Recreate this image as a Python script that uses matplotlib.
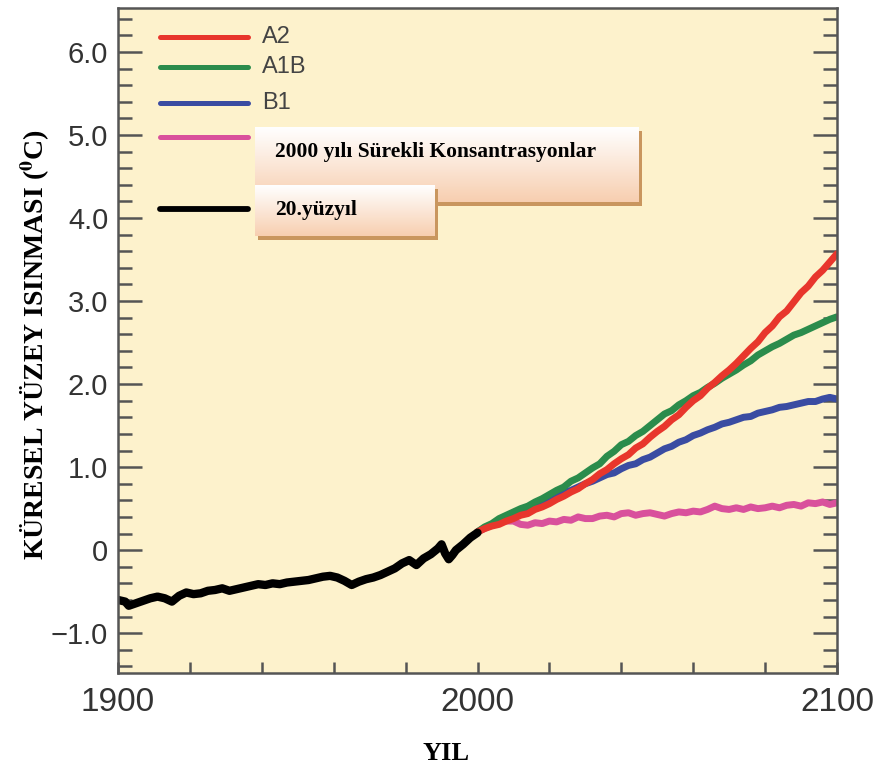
import matplotlib
matplotlib.use('Agg')
import matplotlib.pyplot as plt
from matplotlib.ticker import MultipleLocator, FixedLocator, FixedFormatter
import numpy as np

# 20th century observed
years_hist = [1900, 1902, 1903, 1905, 1907, 1909, 1911, 1913, 1915, 1917, 1919,
              1921, 1923, 1925, 1927, 1929, 1931, 1933, 1935, 1937, 1939, 1941,
              1943, 1945, 1947, 1949, 1951, 1953, 1955, 1957, 1959, 1961, 1963,
              1965, 1967, 1969, 1971, 1973, 1975, 1977, 1979, 1981, 1983, 1985,
              1987, 1989, 1990, 1991, 1992, 1993, 1994, 1996, 1998, 2000]
temp_hist = [-0.60, -0.62, -0.67, -0.64, -0.61, -0.58, -0.56, -0.58, -0.62, -0.55, -0.51,
             -0.53, -0.52, -0.49, -0.48, -0.46, -0.49, -0.47, -0.45, -0.43, -0.41, -0.42,
             -0.40, -0.41, -0.39, -0.38, -0.37, -0.36, -0.34, -0.32, -0.31, -0.33, -0.37,
             -0.42, -0.38, -0.35, -0.33, -0.30, -0.26, -0.22, -0.16, -0.12, -0.18, -0.10,
             -0.05, 0.02, 0.07, -0.04, -0.11, -0.06, 0.00, 0.07, 0.15, 0.21]

years_proj = list(range(2000, 2101, 2))
a2 = [0.22, 0.26, 0.29, 0.31, 0.35, 0.38, 0.42, 0.44, 0.49, 0.52,
      0.56, 0.61, 0.65, 0.70, 0.74, 0.80, 0.85, 0.92, 0.97, 1.04,
      1.10, 1.15, 1.23, 1.28, 1.36, 1.43, 1.49, 1.57, 1.63, 1.72,
      1.80, 1.86, 1.95, 2.02, 2.10, 2.17, 2.25, 2.34, 2.43, 2.51,
      2.62, 2.70, 2.81, 2.88, 2.99, 3.10, 3.18, 3.29, 3.37, 3.47, 3.57]
a1b = [0.22, 0.28, 0.32, 0.38, 0.42, 0.46, 0.50, 0.53, 0.58, 0.62,
       0.67, 0.72, 0.76, 0.83, 0.87, 0.93, 0.99, 1.04, 1.13, 1.19,
       1.27, 1.31, 1.38, 1.43, 1.50, 1.57, 1.64, 1.68, 1.75, 1.80,
       1.86, 1.90, 1.96, 2.01, 2.07, 2.12, 2.17, 2.23, 2.28, 2.35,
       2.40, 2.45, 2.49, 2.54, 2.59, 2.62, 2.66, 2.70, 2.74, 2.78, 2.81]
b1 = [0.22, 0.27, 0.31, 0.36, 0.41, 0.44, 0.48, 0.52, 0.55, 0.59,
      0.62, 0.66, 0.69, 0.72, 0.76, 0.80, 0.83, 0.87, 0.91, 0.93,
      0.98, 1.02, 1.04, 1.09, 1.12, 1.17, 1.22, 1.25, 1.30, 1.33,
      1.38, 1.41, 1.45, 1.48, 1.52, 1.54, 1.57, 1.60, 1.61, 1.65,
      1.67, 1.69, 1.72, 1.73, 1.75, 1.77, 1.79, 1.79, 1.82, 1.84, 1.82]
const2000 = [0.22, 0.26, 0.30, 0.33, 0.35, 0.35, 0.31, 0.30, 0.33, 0.32,
             0.35, 0.34, 0.37, 0.36, 0.40, 0.38, 0.38, 0.41, 0.42, 0.40,
             0.44, 0.45, 0.42, 0.44, 0.45, 0.43, 0.41, 0.44, 0.46, 0.45,
             0.47, 0.46, 0.49, 0.53, 0.50, 0.49, 0.51, 0.49, 0.52, 0.50,
             0.51, 0.53, 0.51, 0.54, 0.55, 0.53, 0.57, 0.56, 0.58, 0.55, 0.57]

colors = {'A2': '#e8362c', 'A1B': '#2b8c4c', 'B1': '#3a4ca2',
          'const': '#d9519c', 'hist': '#000000'}

ytick_vals = [-1.0, 0, 1.0, 2.0, 3.0, 4.0, 5.0, 6.0]
ytick_labels = ['\u22121.0', '0', '1.0', '2.0', '3.0', '4.0', '5.0', '6.0']
xtick_vals = [1900, 2000, 2100]
xtick_labels = ['1900', '2000', '2100']

plt.rcParams['mathtext.fontset'] = 'stix'

W, H = 885, 767
fig = plt.figure(figsize=(W / 100, H / 100), dpi=100)
ax = fig.add_axes([118 / W, 1 - 673 / H, (837 - 118) / W, (673 - 8) / H])
ax.set_facecolor('#fdf2cc')

lw_proj = 5.0
ax.plot(years_proj, const2000, color=colors['const'], lw=lw_proj, solid_capstyle='round')
ax.plot(years_proj, b1, color=colors['B1'], lw=lw_proj, solid_capstyle='round')
ax.plot(years_proj, a1b, color=colors['A1B'], lw=lw_proj, solid_capstyle='round')
ax.plot(years_proj, a2, color=colors['A2'], lw=lw_proj, solid_capstyle='round')
ax.plot(years_hist, temp_hist, color=colors['hist'], lw=6.0, solid_capstyle='round')

ax.set_xlim(1900, 2100)
ax.set_ylim(-1.48, 6.53)

frame_col = '#555555'
for s in ax.spines.values():
    s.set_color(frame_col)
    s.set_linewidth(1.8)

ax.yaxis.set_major_locator(FixedLocator(ytick_vals))
ax.yaxis.set_major_formatter(FixedFormatter(ytick_labels))
ax.yaxis.set_minor_locator(MultipleLocator(0.2))
ax.xaxis.set_major_locator(FixedLocator(xtick_vals))
ax.xaxis.set_major_formatter(FixedFormatter(xtick_labels))
ax.xaxis.set_minor_locator(MultipleLocator(20))

ax.tick_params(axis='y', which='both', direction='in', left=True, right=True,
               colors=frame_col, labelcolor='#333333', width=1.8)
ax.tick_params(axis='y', which='major', length=17, labelsize=21, pad=7)
ax.tick_params(axis='y', which='minor', length=10)
ax.tick_params(axis='x', which='both', direction='in', bottom=True, top=False,
               colors=frame_col, labelcolor='#333333', width=1.8, length=8)
ax.tick_params(axis='x', which='major', labelsize=24, pad=10)
for lab in ax.get_xticklabels() + ax.get_yticklabels():
    lab.set_family('Liberation Sans')

# legend, drawn by hand
leg_x0, leg_x1, leg_tx = 0.058, 0.181, 0.200
leg_rows = [('A2', colors['A2'], 0.956), ('A1B', colors['A1B'], 0.911),
            ('B1', colors['B1'], 0.857), ('', colors['const'], 0.806),
            ('', colors['hist'], 0.698)]
for name, c, yy in leg_rows:
    ax.plot([leg_x0, leg_x1], [yy, yy], color=c, lw=4.2 if c == '#000000' else 3.6,
            transform=ax.transAxes, solid_capstyle='round')
    if name:
        ax.text(leg_tx, yy, name, transform=ax.transAxes, va='center', ha='left',
                fontsize=17, color='#444444', family='Liberation Sans')

# overlay for the boxed labels
ov = fig.add_axes([0, 0, 1, 1])
ov.axis('off')
ov.patch.set_alpha(0)
grad = np.linspace(0, 1, 100)[:, None]
top_c = np.array([1.0, 1.0, 1.0])
bot_c = np.array([0.97, 0.81, 0.69])
img = top_c[None, None, :] * (1 - grad[:, :, None]) + bot_c[None, None, :] * grad[:, :, None]
shadow = '#c9965e'


def box(x0, y0, x1, y1, text, z):
    ov.add_patch(plt.Rectangle((x0 + 3, y0 + 4), x1 - x0, y1 - y0, color=shadow, lw=0,
                               zorder=z))
    ov.imshow(img, extent=(x0, x1, y1, y0), aspect='auto', interpolation='bilinear',
              zorder=z + 1)
    ov.text(x0 + 20, y0 + 30, text, fontsize=15.5, fontweight='bold',
            family='Liberation Serif', va='baseline', ha='left', color='black', zorder=z + 2)


box(255, 127, 639, 202, '2000 yılı Sürekli Konsantrasyonlar', 1)
box(255, 185, 435, 236, '20.yüzyıl', 4)
ov.set_xlim(0, W)
ov.set_ylim(H, 0)

fig.text(35 / W, 1 - 345 / H, r'KÜRESEL YÜZEY ISINMASI ($\mathbf{^{0}}$C)', rotation=90,
         ha='center', va='center', fontsize=20, fontweight='bold', family='Liberation Serif')
fig.text(446 / W, 1 - 753 / H, 'YIL', ha='center', va='center', fontsize=19,
         fontweight='bold', family='Liberation Serif')

fig.savefig('out.png', dpi=100, facecolor='white')
